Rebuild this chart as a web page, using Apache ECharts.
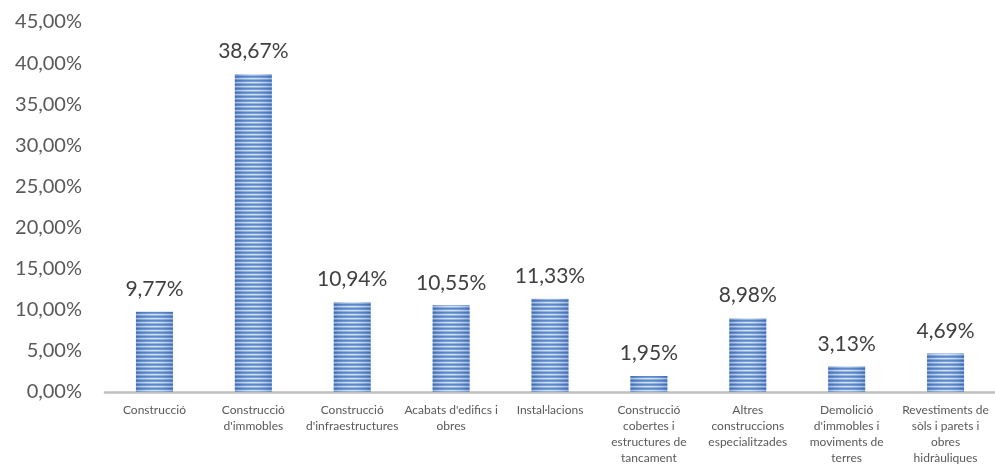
<!DOCTYPE html>
<html>
<head>
<meta charset="utf-8">
<script src="https://cdn.jsdelivr.net/npm/echarts@6/dist/echarts.min.js"></script>
<style>
  html, body { margin: 0; padding: 0; background: #ffffff; }
  #chart { width: 995px; height: 466px; }
</style>
</head>
<body>
<div id="chart"></div>
<script>
// Categories (line breaks as wrapped under the axis)
const categories = [
  "Construcció",
  "Construcció\nd'immobles",
  "Construcció\nd'infraestructures",
  "Acabats d'edifics i\nobres",
  "Instal·lacions",
  "Construcció\ncobertes i\nestructures de\ntancament",
  "Altres\nconstruccions\nespecialitzades",
  "Demolició\nd'immobles i\nmoviments de\nterres",
  "Revestiments de\nsòls i parets i\nobres\nhidràuliques"
];
// Share of companies per activity, in percent
const shares = [9.77, 38.67, 10.94, 10.55, 11.33, 1.95, 8.98, 3.13, 4.69];
// Value axis ticks
const yTicks = { min: 0, max: 45, interval: 5 };

const fmtPct = v => v.toFixed(2).replace('.', ',') + '%';

// Horizontal stripe fill for the bars
const stripe = document.createElement('canvas');
stripe.width = 4; stripe.height = 4;
const sctx = stripe.getContext('2d');
const rows = ['#4678c2', '#6593d3', '#d0dff3', '#87abdd'];
rows.forEach((c, i) => { sctx.fillStyle = c; sctx.fillRect(0, i, 4, 1); });

const chart = echarts.init(document.getElementById('chart'), null, { renderer: 'canvas' });
const font = 'Lato, "Open Sans", sans-serif';

chart.setOption({
  animation: false,
  grid: { left: 105, right: 0, top: 22, bottom: 71, containLabel: false },
  xAxis: {
    type: 'category',
    data: categories,
    axisLine: { lineStyle: { color: '#bfbfbf', width: 2.5 } },
    axisTick: { show: false },
    axisLabel: {
      interval: 0,
      color: '#595959',
      fontFamily: font,
      fontSize: 12,
      lineHeight: 16,
      margin: 10,
      align: 'center'
    }
  },
  yAxis: {
    type: 'value',
    min: yTicks.min,
    max: yTicks.max,
    interval: yTicks.interval,
    splitLine: { show: false },
    axisLine: { show: false },
    axisTick: { show: false },
    axisLabel: {
      color: '#595959',
      fontFamily: font,
      fontSize: 20,
      margin: 23,
      formatter: v => fmtPct(v)
    }
  },
  series: [
    {
      type: 'bar',
      data: shares,
      barWidth: 37,
      itemStyle: { color: { image: stripe, repeat: 'repeat' } },
      label: {
        show: true,
        position: 'top',
        distance: 12,
        color: '#404040',
        fontFamily: font,
        fontSize: 21,
        formatter: p => fmtPct(p.value)
      }
    },
    {
      // edge shading over the striped bars
      type: 'bar',
      data: shares,
      barWidth: 37,
      barGap: '-100%',
      silent: true,
      itemStyle: {
        color: {
          type: 'linear', x: 0, y: 0, x2: 1, y2: 0,
          colorStops: [
            { offset: 0, color: 'rgba(40,80,150,0.30)' },
            { offset: 0.5, color: 'rgba(255,255,255,0.12)' },
            { offset: 1, color: 'rgba(40,80,150,0.30)' }
          ]
        }
      },
      z: 3
    }
  ]
});
</script>
</body>
</html>
